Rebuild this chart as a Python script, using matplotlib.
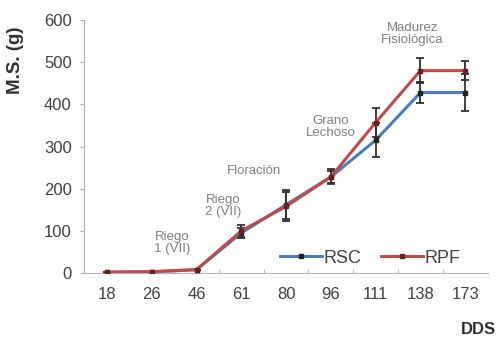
import numpy as np
from matplotlib import pyplot as plt

plt.rcParams['font.family'] = ['Liberation Sans', 'DejaVu Sans']

# dry matter (g) by days after sowing
dds = ['18', '26', '46', '61', '80', '96', '111', '138', '173']
rsc = [2, 3, 8, 95, 162, 228, 315, 428, 428]
rsc_err = [0, 0, 0, 12, 35, 15, 40, 24, 43]
rpf = [2, 3, 8, 100, 158, 228, 357, 480, 480]
rpf_err = [0, 0, 0, 15, 35, 18, 35, 30, 23]

# crop stage notes: (text, x index, y value)
stages = [('Riego\n1 (VII)', 1.45, 71),
          ('Riego\n2 (VII)', 2.59, 158),
          ('Floración', 3.28, 243),
          ('Grano\nLechoso', 5.0, 347),
          ('Madurez\nFisiológica', 6.82, 567)]

blue = '#4a7ebb'
red = '#be4b48'

fig = plt.figure(figsize=(4.98, 3.4), dpi=100)
ax = fig.add_axes([0.169, 0.197, 0.811, 0.744])

x = np.arange(len(dds))
ax.errorbar(x, rsc, yerr=rsc_err, color=blue, lw=2.2, marker='s', ms=3,
            mfc='#222222', mec='#222222', ecolor='#303030', elinewidth=1.3,
            capsize=3, capthick=1.3, label='RSC', zorder=3)
ax.errorbar(x, rpf, yerr=rpf_err, color=red, lw=2.2, marker='s', ms=3,
            mfc='#6a2020', mec='#6a2020', ecolor='#303030', elinewidth=1.3,
            capsize=3, capthick=1.3, label='RPF', zorder=4)

for txt, sx, sy in stages:
    ax.text(sx, sy, txt, ha='center', va='center', fontsize=9.5,
            color='#808080', linespacing=1.0)

ax.set_xlim(-0.51, 8.51)
ax.set_ylim(0, 600)
ax.set_xticks(x)
ax.set_xticklabels(dds)
ax.set_xticks(x[:-1] + 0.5, minor=True)
ax.set_yticks(range(0, 601, 100))
ax.tick_params(axis='both', labelsize=12, colors='#404040', length=3)
ax.tick_params(axis='y', pad=6, color='#b0b0b0')
ax.tick_params(axis='x', which='major', length=0, pad=10)
ax.tick_params(axis='x', which='minor', direction='in', length=3,
               color='#b0b0b0')
for s in ['top', 'right']:
    ax.spines[s].set_visible(False)
for s in ['left', 'bottom']:
    ax.spines[s].set_color('#b0b0b0')

handles, labels = ax.get_legend_handles_labels()
handles = [h[0] for h in handles]
ax.legend(handles, labels, loc='center left', ncol=2, frameon=False,
          fontsize=13, handlelength=2.3, handletextpad=0.1,
          columnspacing=1.1, borderpad=0, borderaxespad=0,
          bbox_to_anchor=(0.485, 0.059), labelcolor='#404040')

fig.text(0.032, 0.824, 'M.S. (g)', rotation=90, ha='center', va='center',
         fontsize=13.5, fontweight='bold', color='#303030')
fig.text(0.96, 0.03, 'DDS', ha='center', va='center',
         fontsize=12, fontweight='bold', color='#303030')

plt.savefig('out.png', dpi=100)
